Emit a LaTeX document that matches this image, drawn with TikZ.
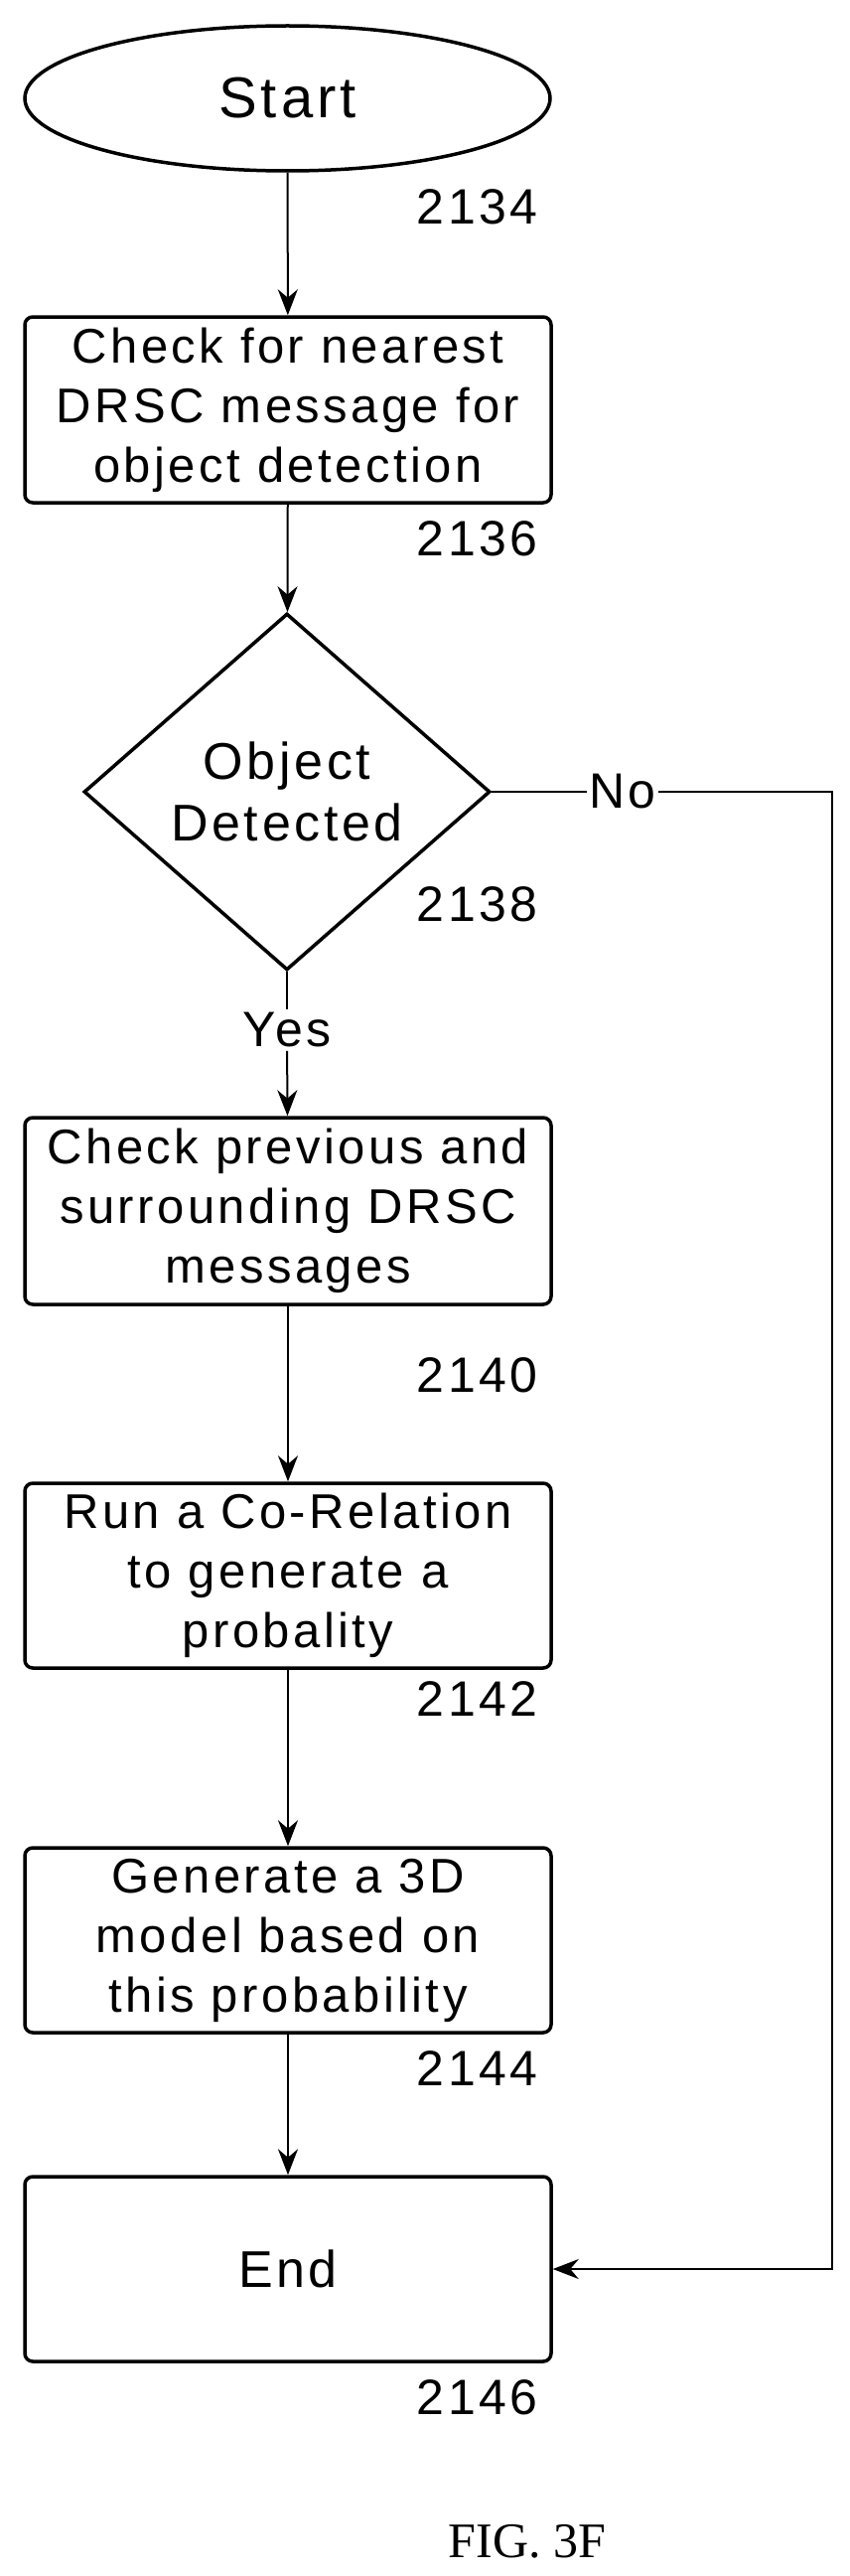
\documentclass[tikz,border=0pt]{standalone}
\usepackage{fontspec}
\setmainfont{Liberation Serif}
\setsansfont[LetterSpace=7]{Liberation Sans}
\usetikzlibrary{shapes.geometric,arrows.meta}
\begin{document}
\begin{tikzpicture}[
    x=1pt, y=-1pt,
    process/.style={rectangle, draw, line width=3.5pt, rounded corners=8pt, minimum width=530pt, inner sep=0pt, align=center, font=\sffamily\fontsize{49}{60}\selectfont},
    refnum/.style={anchor=east, font=\sffamily\fontsize{50}{60}\selectfont},
    arrow/.style={-{Stealth[length=26pt,width=20pt]}, line width=2pt}
]
\useasboundingbox (0,0) rectangle (856,2593);

% Terminals
\node[ellipse, draw, line width=3.5pt, minimum width=529pt, minimum height=146pt, inner sep=0pt, font=\sffamily\fontsize{58}{60}\selectfont] (start) at (289.5,99) {Start};
\node[process, minimum height=186pt, font=\sffamily\fontsize{52}{60}\selectfont] (finish) at (290,2284) {End};

% Steps
\node[process, minimum height=187pt] (nearest) at (290,412.5) {Check for nearest\\DRSC message for\\object detection};
\node[diamond, draw, line width=3.5pt, minimum width=409pt, minimum height=359pt, inner sep=0pt, align=center, font=\sffamily\fontsize{52}{62}\selectfont] (detect) at (289,797) {Object\\Detected};
\node[process, minimum height=188pt] (previous) at (290,1219) {Check previous and\\surrounding DRSC\\messages};
\node[process, minimum height=186pt] (correl) at (290,1586) {Run a Co-Relation\\to generate a\\probality};
\node[process, minimum height=186pt] (model) at (290,1953) {Generate a 3D\\model based on\\this probability};

% Reference numerals
\node[refnum] (n2134) at (545,208) {2134};
\node[refnum] (n2136) at (545,542) {2136};
\node[refnum] (n2138) at (545,910) {2138};
\node[refnum] (n2140) at (545,1384) {2140};
\node[refnum] (n2142) at (545,1710) {2142};
\node[refnum] (n2144) at (545,2082) {2144};
\node[refnum] (n2146) at (545,2413) {2146};

% Branch labels
\node[font=\sffamily\fontsize{50}{60}\selectfont] (yes) at (289,1037) {Yes};
\node[font=\sffamily\fontsize{50}{60}\selectfont, fill=white, inner sep=2pt] (no) at (627,797) {No};
\coordinate (corner1) at (838,797);
\coordinate (corner2) at (838,2284);

% Arrows
\draw[arrow] (start) -- (nearest);
\draw[arrow] (nearest) -- (detect);
\draw[line width=2pt] (detect.south) -- (yes);
\draw[arrow] (yes) -- (previous);
\draw[arrow] (previous) -- (correl);
\draw[arrow] (correl) -- (model);
\draw[arrow] (model) -- (finish);
\draw[line width=2pt] (detect.east) -- (no);
\draw[arrow] (no) -- (corner1) -- (corner2) -- (finish.east);

% Caption
\node[font=\fontsize{50}{60}\selectfont] (caption) at (531,2558) {FIG. 3F};
\end{tikzpicture}
\end{document}
